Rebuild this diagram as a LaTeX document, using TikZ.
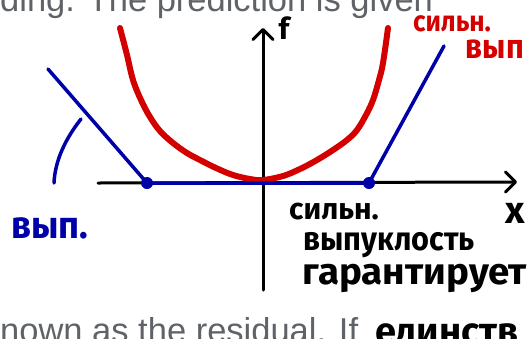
\documentclass[tikz,border=0pt]{standalone}
\usepackage{fontspec}
\setmainfont{Liberation Sans}
\newfontfamily\handfont{Fira Sans}
\usetikzlibrary{arrows.meta}
\definecolor{ink}{HTML}{000000}
\definecolor{strong}{HTML}{D40000}
\definecolor{plain}{HTML}{0000A8}
\definecolor{quiet}{HTML}{5F6368}
\newcommand\handsize[1]{\handfont\bfseries\fontsize{#1}{#1}\selectfont}
\tikzset{axis/.style={draw=ink,line width=3pt,line cap=round,
    -{Straight Barb[length=10pt,width=20pt,line width=3pt,round]}},
  sharp/.style={draw=strong,line width=6pt,line cap=round},
  flat/.style={draw=plain,line width=3.5pt,line cap=round},
  kink/.style={circle,fill=plain,inner sep=0pt,minimum size=12pt},
  hand/.style={inner sep=0pt},
  book/.style={font=\fontsize{34.5}{40}\selectfont,text=quiet,inner sep=0pt}}

\begin{document}
\begin{tikzpicture}[x=1pt,y=-1pt]
  \useasboundingbox (0,0) rectangle (532,338);
  % page text round the sketch
  \node[book,anchor=base west] (top) at (0,11) {ding. The prediction is given};
  \node[book,anchor=base west] (bottom) at (0,342) {nown as the residual. If};
  % axes
  \coordinate (xs) at (98,183);
  \coordinate (xe) at (517,182);
  \coordinate (ys) at (263,290);
  \coordinate (ye) at (263,28);
  \draw[axis] (xs) -- (xe);
  \draw[axis] (ys) -- (ye);
  \node[hand,font=\handsize{30}] (flab) at (284,28) {f};
  \node[hand,font=\handsize{38}] (xlab) at (515,213) {x};
  % strongly convex
  \draw[sharp] plot[smooth,tension=0.6] coordinates {(120,28) (127,55) (133,80) (141,100)
    (150,117) (160,131) (173,143) (187,153) (200,160) (216,168) (233,175) (250,179)
    (263,180) (283,176) (300,169) (317,160) (333,150) (347,140) (357,130) (366,115)
    (373,100) (379,80) (383,63) (388,28)};
  % convex
  \node[kink] (kl) at (147,183) {};
  \node[kink] (kr) at (369,183) {};
  \coordinate (bl) at (48,69);
  \coordinate (br) at (444,46);
  \draw[flat] (bl) -- (kl.center) -- (kr.center) -- (br);
  \coordinate (as) at (81,119);
  \coordinate (ae) at (54,183);
  \draw[flat] (as) .. controls (66,138) and (55,160) .. (ae);
  % labels
  \node[hand,text=strong,font=\handsize{29},xscale=0.9] (slab) at (452,24) {сильн.};
  \node[hand,text=strong,font=\handsize{34},xscale=0.9] (svyp) at (495,49) {вып};
  \node[hand,text=plain,font=\handsize{38},xscale=0.95] (vyp) at (50,228) {вып.};
  \node[hand,font=\handsize{30}] (n1) at (334,212) {сильн.};
  \node[hand,font=\handsize{33},xscale=0.93] (n2) at (389,245) {выпуклость};
  \node[hand,font=\handsize{37},xscale=1.04] (n3) at (415,278) {гарантирует};
  \node[hand,font=\handsize{38},anchor=north west] (n4) at (375,323) {единств};
\end{tikzpicture}
\end{document}
